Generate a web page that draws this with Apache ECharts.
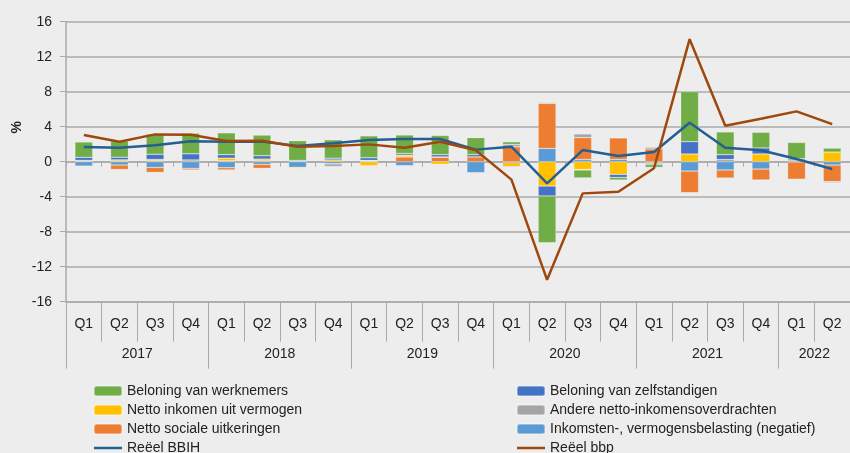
<!DOCTYPE html>
<html>
<head>
<meta charset="utf-8">
<script src="https://cdn.jsdelivr.net/npm/echarts@6/dist/echarts.min.js"></script>
<style>
  html, body { margin: 0; padding: 0; background: #ededed; }
  #chart { width: 850px; height: 453px; }
</style>
</head>
<body>
<div id="chart"></div>
<script>
  // kwartalen en jaren
  var quarters = ['Q1','Q2','Q3','Q4','Q1','Q2','Q3','Q4','Q1','Q2','Q3','Q4',
                  'Q1','Q2','Q3','Q4','Q1','Q2','Q3','Q4','Q1','Q2'];
  var years = ['2017','2018','2019','2020','2021','2022'];
  var quartersPerYear = [4, 4, 4, 4, 4, 2];
  var yTicks = [-16, -12, -8, -4, 0, 4, 8, 12, 16];

  // bijdragen (procentpunten)
  var werknemers   = [1.75, 1.85, 2.3, 2.36, 2.5, 2.36, 2.25, 2.1, 2.5, 2.1, 2.2, 1.95, 0.3, -5.33, -0.9, -0.3, -0.3, 5.71, 2.6, 1.79, 1.85, 0.45];
  var zelfstandigen = [0.35, 0.3, 0.6, 0.7, 0.4, 0.38, 0.1, 0.2, 0.3, 0.2, 0.25, 0.25, -0.08, -1.14, -0.05, -0.34, -0.15, 1.41, 0.55, 0.69, 0.15, -0.1];
  var vermogen     = [0.1, 0.15, 0.15, -0.05, 0.3, 0.2, -0.12, 0.2, -0.45, 0.2, -0.3, -0.08, -0.46, -2.78, -0.9, -1.45, -0.1, 0.88, 0, 0.88, 0, 1.1];
  var andere       = [0.05, 0.06, 0.1, 0.2, 0.1, 0.1, 0.05, -0.3, 0.05, 0, 0.05, 0, 0.27, 0.11, 0.42, 0.07, 0.2, 0, 0.25, 0, 0.2, 0];
  var sociale      = [-0.08, -0.5, -0.57, -0.19, -0.25, -0.46, 0, 0, 0.05, 0.55, 0.5, 0.55, 1.7, 5.14, 2.5, 2.45, 1.45, -2.48, -0.91, -1.26, -1.95, -1.9];
  var belasting    = [-0.5, -0.38, -0.65, -0.76, -0.69, -0.3, -0.65, -0.25, 0.05, -0.45, 0, -1.26, -0.1, 1.52, 0.25, 0.27, -0.1, -1.07, -0.95, -0.84, -0.05, -0.38];

  var bbih = [1.68, 1.6, 1.87, 2.35, 2.29, 2.3, 1.8, 2.1, 2.48, 2.6, 2.6, 1.38, 1.71, -2.48, 1.33, 0.65, 1.1, 4.46, 1.6, 1.3, 0.3, -0.84];
  var bbp  = [3.05, 2.29, 3.12, 3.09, 2.36, 2.4, 1.71, 1.79, 1.98, 1.6, 2.29, 1.3, -2.05, -13.5, -3.62, -3.43, -0.75, 14.0, 4.11, 4.9, 5.75, 4.3];

  // middens en grenzen van de jaargroepen op de as
  var yearCenters = [], yearBounds = [0], acc = 0;
  for (var i = 0; i < quartersPerYear.length; i++) {
    yearCenters.push(acc + quartersPerYear[i] / 2);
    acc += quartersPerYear[i];
    yearBounds.push(acc);
  }

  var font = 'Liberation Sans';
  var catW = 36.2;
  var lineIcon = 'path://M0,0 L28,0 L28,2.5 L0,2.5 Z';

  function barSerie(name, data, color) {
    return {
      name: name, type: 'bar', stack: 'tot', data: data, barWidth: '50%',
      itemStyle: { color: color, borderColor: 'rgba(255,255,255,0.35)', borderWidth: 0.6 }
    };
  }

  var legendBase = {
    orient: 'vertical', top: 379, height: 90, itemGap: 5, itemWidth: 28, itemHeight: 10,
    textStyle: { fontSize: 14, color: '#222' }
  };

  var chart = echarts.init(document.getElementById('chart'));
  chart.setOption({
    backgroundColor: '#ededed',
    animation: false,
    textStyle: { fontFamily: font },
    grid: { left: 66, top: 21.7, width: catW * quarters.length, height: 280 },
    graphic: [{
      type: 'text', left: 10, top: 121, rotation: Math.PI / 2,
      style: { text: '%', font: 'bold 14px ' + font, fill: '#222' }
    }],
    legend: [
      Object.assign({}, legendBase, {
        left: 88,
        data: ['Beloning van werknemers', 'Netto inkomen uit vermogen', 'Netto sociale uitkeringen',
               { name: 'Reëel BBIH', icon: lineIcon }]
      }),
      Object.assign({}, legendBase, {
        left: 511,
        data: ['Beloning van zelfstandigen', 'Andere netto-inkomensoverdrachten', 'Inkomsten-, vermogensbelasting (negatief)',
               { name: 'Reëel bbp', icon: lineIcon }]
      })
    ],
    xAxis: [{
      type: 'category', data: quarters, position: 'bottom',
      axisLine: { onZero: false, lineStyle: { color: '#aaaaaa', width: 1.5 } },
      axisTick: { show: true, interval: 0, length: 40, lineStyle: { color: '#aaaaaa' } },
      axisLabel: { interval: 0, margin: 15, fontSize: 14, color: '#222' }
    }, {
      type: 'value', min: 0, max: quarters.length, position: 'bottom',
      splitLine: { show: false },
      axisLine: { show: false, onZero: false },
      axisTick: { show: true, customValues: yearBounds, length: 67, lineStyle: { color: '#aaaaaa' } },
      axisLabel: {
        customValues: yearCenters, margin: 45, fontSize: 14, color: '#222',
        formatter: function (v) { return years[yearCenters.indexOf(v)]; }
      }
    }, {
      type: 'category', data: quarters, position: 'bottom',
      axisLine: { onZero: true, lineStyle: { color: '#aaaaaa', width: 1.5 } },
      axisTick: { show: true, interval: 0, length: 5, lineStyle: { color: '#aaaaaa' } },
      axisLabel: { show: false }
    }],
    yAxis: {
      type: 'value', min: yTicks[0], max: yTicks[yTicks.length - 1], interval: 4,
      axisLine: { show: true, lineStyle: { color: '#aaaaaa', width: 1.5 } },
      axisTick: { show: true, length: 6, lineStyle: { color: '#aaaaaa' } },
      axisLabel: { fontSize: 14, color: '#222', margin: 14 },
      splitLine: { lineStyle: { color: '#aaaaaa', width: 1.5 } }
    },
    series: [
      barSerie('Inkomsten-, vermogensbelasting (negatief)', belasting, '#5b9bd5'),
      barSerie('Netto sociale uitkeringen', sociale, '#ed7d31'),
      barSerie('Andere netto-inkomensoverdrachten', andere, '#a5a5a5'),
      barSerie('Netto inkomen uit vermogen', vermogen, '#ffc000'),
      barSerie('Beloning van zelfstandigen', zelfstandigen, '#4472c4'),
      barSerie('Beloning van werknemers', werknemers, '#70ad47'),
      { name: 'Reëel BBIH', type: 'line', data: bbih, symbol: 'none', z: 5,
        lineStyle: { color: '#255e91', width: 2.5 }, itemStyle: { color: '#255e91' } },
      { name: 'Reëel bbp', type: 'line', data: bbp, symbol: 'none', z: 5,
        lineStyle: { color: '#9e480e', width: 2.5 }, itemStyle: { color: '#9e480e' } }
    ]
  });
</script>
</body>
</html>
